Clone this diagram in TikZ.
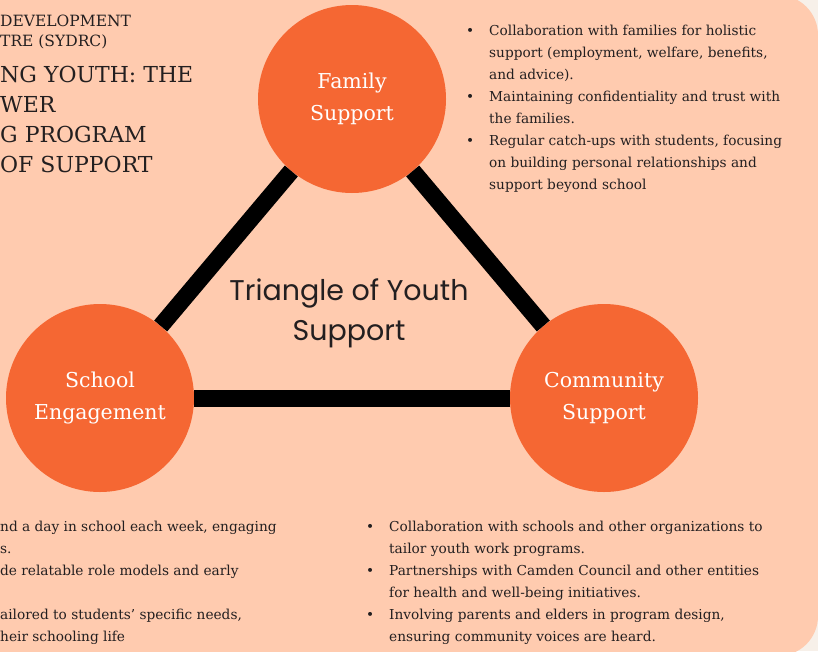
\documentclass[tikz,border=0pt]{standalone}
\usepackage{fontspec}
\setmainfont{DejaVu Serif}
\newfontfamily\roundsans{Poppins}
\definecolor{paper}{HTML}{F7F0E9}
\definecolor{peach}{HTML}{FFCBAF}
\definecolor{hubfill}{HTML}{F56733}
\definecolor{ink}{HTML}{231F20}
\newcommand\bul{\makebox[23pt][l]{\textbullet}}
\newcommand\ind{\hspace*{23pt}}

\begin{document}
\begin{tikzpicture}[x=1pt,y=-1pt]
	\tikzstyle{hub}=[circle, fill=hubfill, minimum size=188pt, inner sep=0pt, text=white, align=center, font=\fontsize{20.5}{32}\selectfont]
	\tikzstyle{spoke}=[line width=17pt]
	\tikzstyle{notes}=[anchor=north west, inner sep=0pt, align=left, text=ink, font=\fontsize{13.7}{22}\selectfont]

	\useasboundingbox (0,0) rectangle (818,651);
	\fill[paper] (0,0) rectangle (818,651);
	\fill[peach, rounded corners=40pt] (-60,-5) rectangle (818,656);

	% heading, cut by the page edge
	\node[notes, font=\fontsize{15.5}{20}\selectfont] (org) at (0,15) {DEVELOPMENT\\TRE (SYDRC)};
	\node[notes, font=\fontsize{22}{30}\selectfont] (head) at (0,66) {NG YOUTH: THE\\WER\\G PROGRAM\\OF SUPPORT};

	% the three corners
	\node[hub] (family) at (352,99) {Family\\Support};
	\node[hub] (school) at (100,398) {School\\Engagement};
	\node[hub] (community) at (604,398) {Community\\Support};

	\draw[spoke] (family) -- (school);
	\draw[spoke] (school) -- (community);
	\draw[spoke] (community) -- (family);

	\node[align=center, text=ink, font=\roundsans\fontsize{28.5}{40}\selectfont] (centre) at (349,313) {Triangle of Youth\\Support};

	\node[notes] (familynotes) at (466,25) {\bul Collaboration with families for holistic\\
		\ind support (employment, welfare, benefits,\\
		\ind and advice).\\
		\bul Maintaining confidentiality and trust with\\
		\ind the families.\\
		\bul Regular catch-ups with students, focusing\\
		\ind on building personal relationships and\\
		\ind support beyond school};

	\node[notes] (schoolnotes) at (0,521) {nd a day in school each week, engaging\\
		s.\\
		de relatable role models and early\\
		\mbox{}\\
		ailored to students' specific needs,\\
		heir schooling life};

	\node[notes] (communitynotes) at (366,521) {\bul Collaboration with schools and other organizations to\\
		\ind tailor youth work programs.\\
		\bul Partnerships with Camden Council and other entities\\
		\ind for health and well-being initiatives.\\
		\bul Involving parents and elders in program design,\\
		\ind ensuring community voices are heard.};
\end{tikzpicture}
\end{document}
